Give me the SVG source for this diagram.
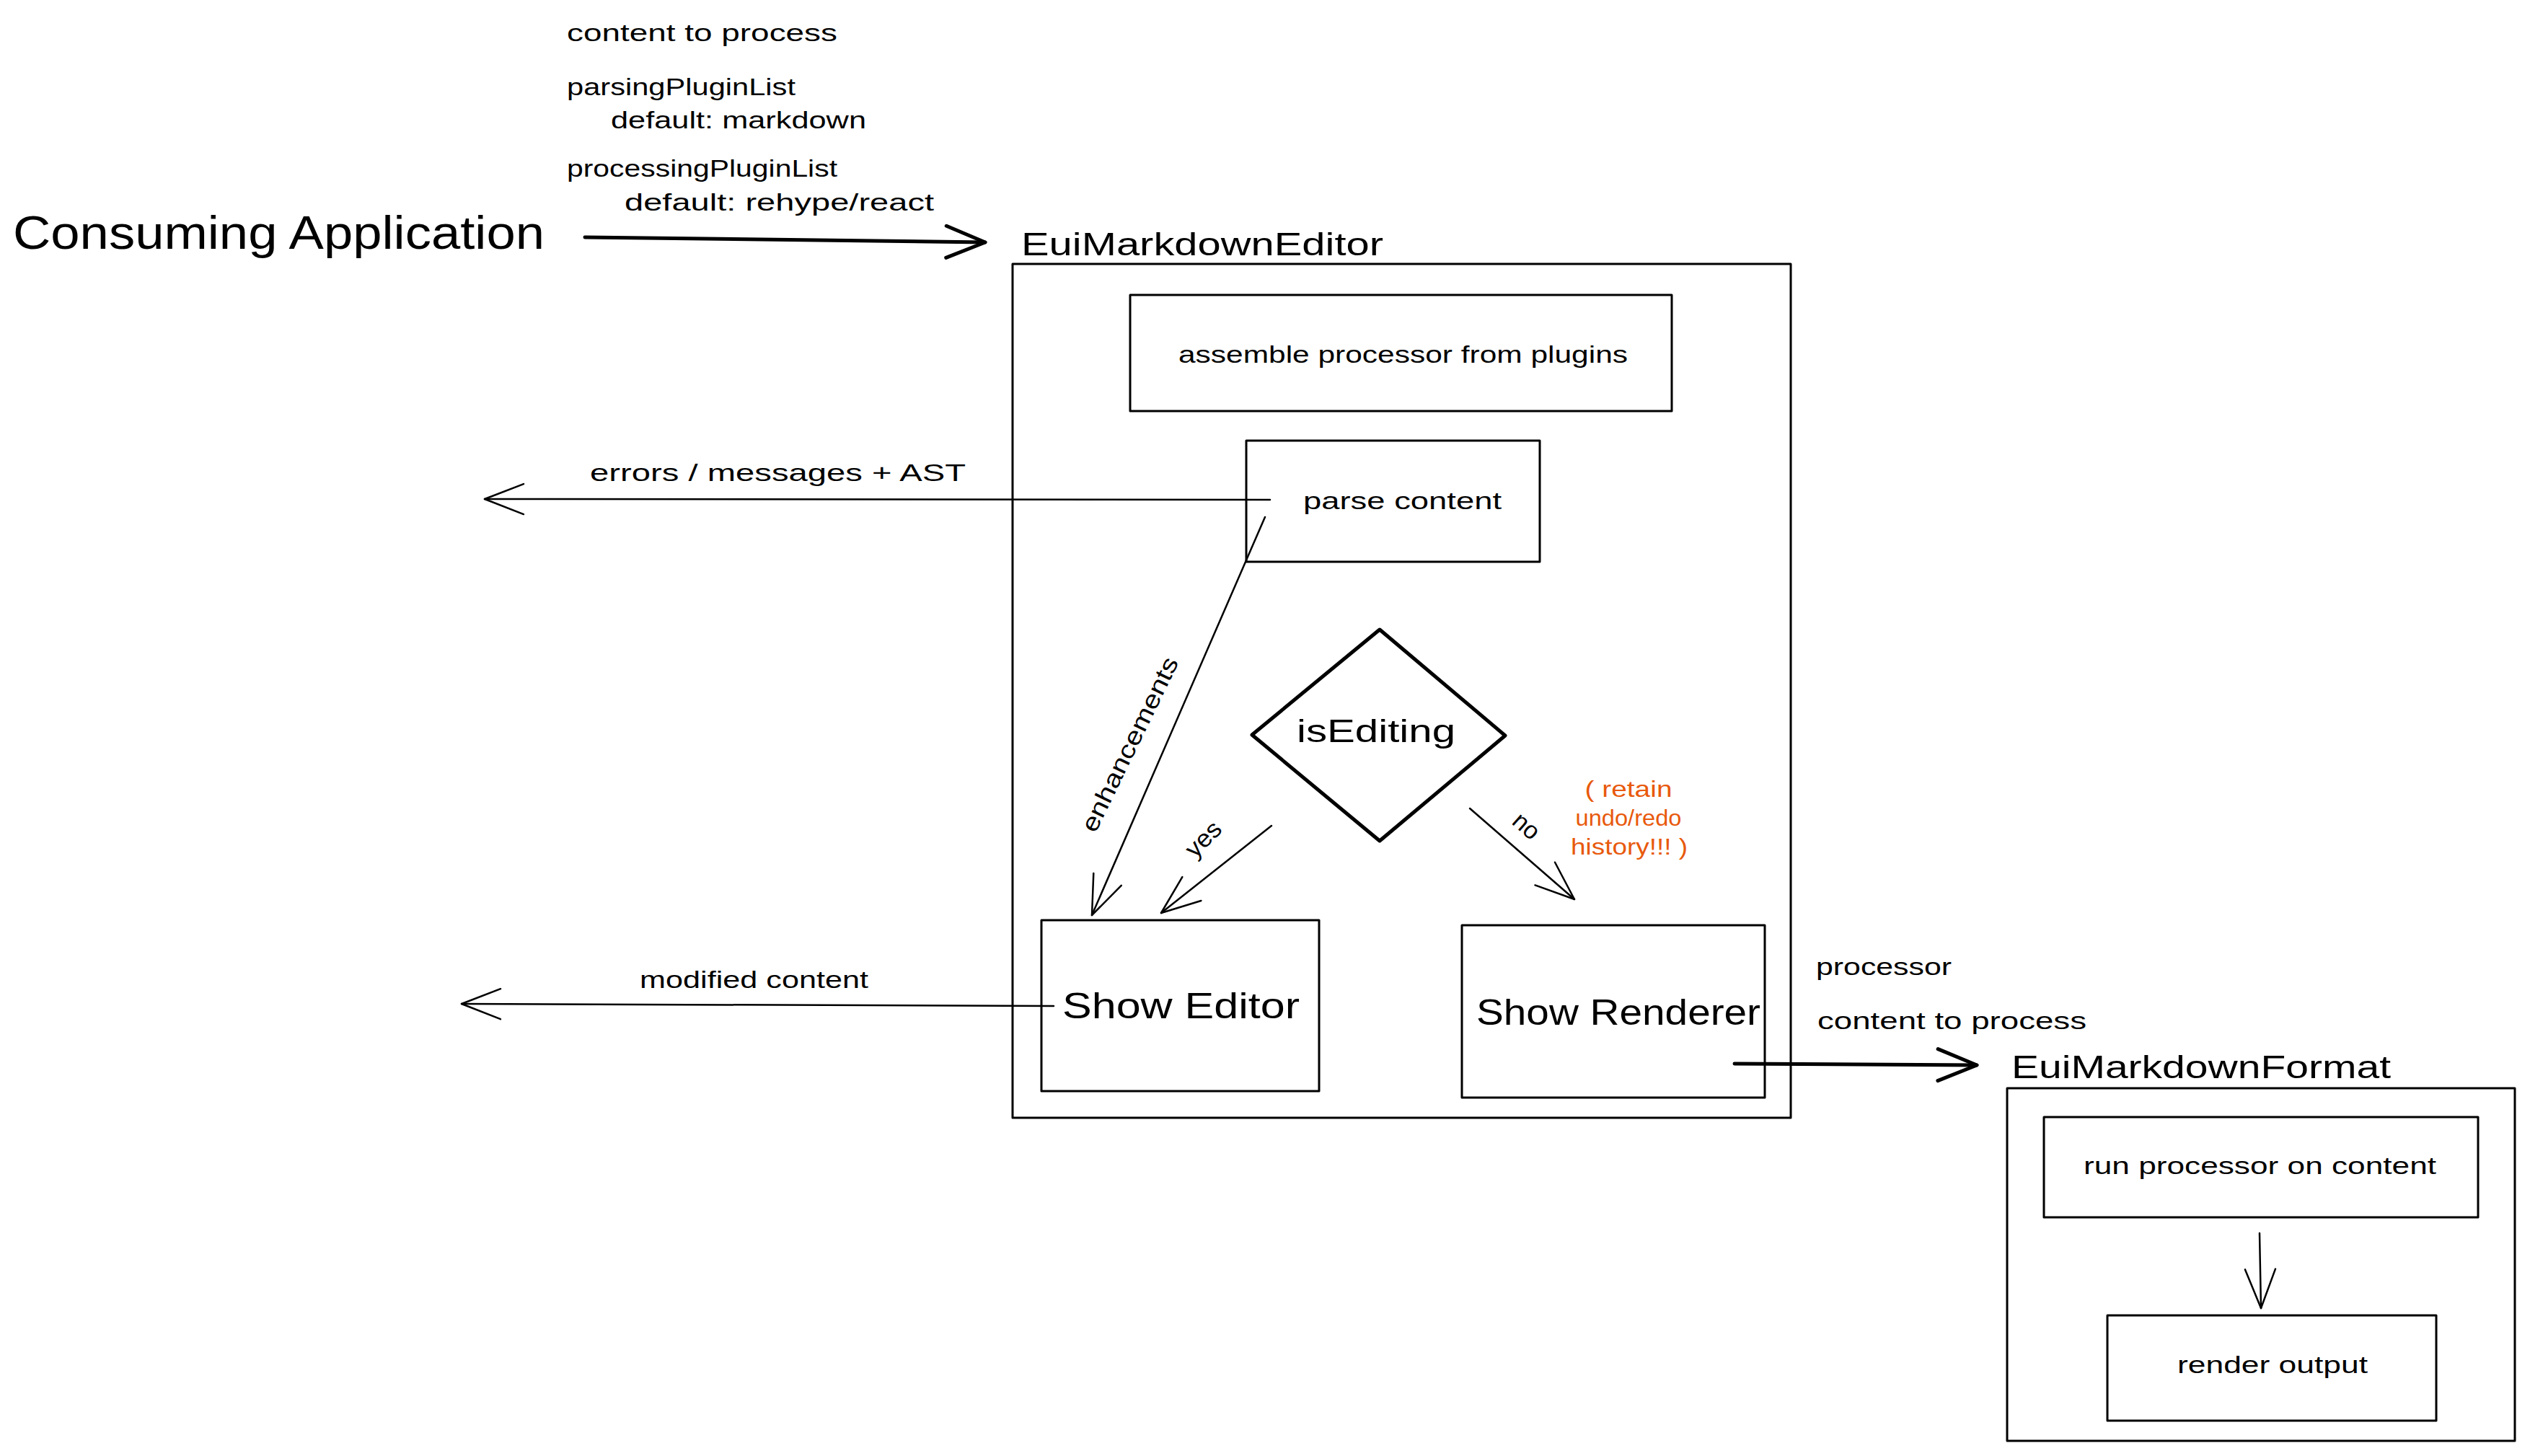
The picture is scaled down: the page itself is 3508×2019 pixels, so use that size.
<svg xmlns="http://www.w3.org/2000/svg" width="3508" height="2019" viewBox="0 0 3508 2019">
<style>
  .bg { fill: #ffffff; }
  .box { fill: none; stroke: #000; stroke-width: 3; stroke-linejoin: round; }
  .dia { fill: none; stroke: #000; stroke-width: 5; stroke-linejoin: round; }
  .thin { fill: none; stroke: #000; stroke-width: 2.5; stroke-linecap: round; }
  .bold { fill: none; stroke: #000; stroke-width: 5; stroke-linecap: round; }
  text { font-family: "Liberation Sans", "DejaVu Sans", sans-serif; fill: #000; }
  .s { font-size: 34px; }
  .big { font-size: 64px; }
  .h { font-size: 44px; }
  .m { font-size: 50px; }
  .note { font-size: 32px; fill: #e8590c; text-anchor: middle; }
</style>
<defs>
  <marker id="chevThin" markerUnits="userSpaceOnUse" viewBox="0 0 120 120" markerWidth="120" markerHeight="120" refX="60" refY="60" orient="auto" overflow="visible">
    <path d="M6,39 L60,60 L6,81" fill="none" stroke="#000" stroke-width="2.5" stroke-linecap="round" stroke-linejoin="round"/>
  </marker>
  <marker id="chevBold" markerUnits="userSpaceOnUse" viewBox="0 0 120 120" markerWidth="120" markerHeight="120" refX="60" refY="60" orient="auto" overflow="visible">
    <path d="M6,38 L60,60 L6,82" fill="none" stroke="#000" stroke-width="5" stroke-linecap="round" stroke-linejoin="round"/>
  </marker>
</defs>
<rect class="bg" x="0" y="0" width="3508" height="2019"/>

<g id="inputs-label">
  <text class="s" x="786" y="57" textLength="375" lengthAdjust="spacingAndGlyphs">content to process</text>
  <text class="s" x="786" y="132" textLength="317" lengthAdjust="spacingAndGlyphs">parsingPluginList</text>
  <text class="s" x="847" y="178" textLength="354" lengthAdjust="spacingAndGlyphs">default: markdown</text>
  <text class="s" x="786" y="245" textLength="375" lengthAdjust="spacingAndGlyphs">processingPluginList</text>
  <text class="s" x="866" y="292" textLength="429" lengthAdjust="spacingAndGlyphs">default: rehype/react</text>
</g>

<g id="consuming-application">
  <text class="big" x="18" y="345" textLength="737" lengthAdjust="spacingAndGlyphs">Consuming Application</text>
</g>

<g id="eui-markdown-editor">
  <text class="h" x="1416" y="354" textLength="502" lengthAdjust="spacingAndGlyphs">EuiMarkdownEditor</text>
  <rect class="box" x="1404" y="366" width="1079" height="1184"/>
</g>

<g id="assemble-processor">
  <rect class="box" x="1567" y="409" width="751" height="161"/>
  <text class="s" x="1634" y="503" textLength="623" lengthAdjust="spacingAndGlyphs">assemble processor from plugins</text>
</g>

<g id="parse-content">
  <rect class="box" x="1728" y="611" width="407" height="168"/>
  <text class="s" x="1807" y="706" textLength="275" lengthAdjust="spacingAndGlyphs">parse content</text>
</g>

<g id="is-editing">
  <polygon class="dia" points="1913,873 2087,1020 1913,1166 1736,1019"/>
  <text class="h" x="1798" y="1029" textLength="220" lengthAdjust="spacingAndGlyphs">isEditing</text>
</g>

<g id="show-editor">
  <rect class="box" x="1444" y="1276" width="385" height="237"/>
  <text class="m" x="1473" y="1412" textLength="329" lengthAdjust="spacingAndGlyphs">Show Editor</text>
</g>

<g id="show-renderer">
  <rect class="box" x="2027" y="1283" width="420" height="239"/>
  <text class="m" x="2047" y="1421" textLength="394" lengthAdjust="spacingAndGlyphs">Show Renderer</text>
</g>

<g id="retain-note">
  <text class="note" x="2258" y="1105" textLength="121" lengthAdjust="spacingAndGlyphs">( retain</text>
  <text class="note" x="2258" y="1145" textLength="147" lengthAdjust="spacingAndGlyphs">undo/redo</text>
  <text class="note" x="2259" y="1185" textLength="162" lengthAdjust="spacingAndGlyphs">history!!! )</text>
</g>

<g id="eui-markdown-format">
  <text class="h" x="2789" y="1495" textLength="526" lengthAdjust="spacingAndGlyphs">EuiMarkdownFormat</text>
  <rect class="box" x="2783" y="1509" width="704" height="489"/>
</g>

<g id="run-processor">
  <rect class="box" x="2834" y="1549" width="602" height="139"/>
  <text class="s" x="2889" y="1628" textLength="489" lengthAdjust="spacingAndGlyphs">run processor on content</text>
</g>

<g id="render-output">
  <rect class="box" x="2922" y="1824" width="456" height="146"/>
  <text class="s" x="3019" y="1904" textLength="264" lengthAdjust="spacingAndGlyphs">render output</text>
</g>

<g id="connectors">
  <path class="bold" d="M811,329 L1366,336" marker-end="url(#chevBold)"/>
  <path class="thin" d="M1761,693 L672,692" marker-end="url(#chevThin)"/>
  <text class="s" x="818" y="667" textLength="521" lengthAdjust="spacingAndGlyphs">errors / messages + AST</text>
  <path class="thin" d="M1754,717 L1514,1269" marker-end="url(#chevThin)"/>
  <text class="s" x="1566" y="1044" text-anchor="middle" textLength="265" lengthAdjust="spacingAndGlyphs" transform="rotate(-64 1566 1032)">enhancements</text>
  <path class="thin" d="M1763,1145 L1610,1266" marker-end="url(#chevThin)"/>
  <text class="s" x="1668" y="1175" text-anchor="middle" textLength="56" lengthAdjust="spacingAndGlyphs" transform="rotate(-45 1668 1163)">yes</text>
  <path class="thin" d="M2038,1121 L2183,1247" marker-end="url(#chevThin)"/>
  <text class="s" x="2117" y="1157" text-anchor="middle" textLength="38" lengthAdjust="spacingAndGlyphs" transform="rotate(41 2117 1145)">no</text>
  <path class="thin" d="M1461,1395 L640,1392" marker-end="url(#chevThin)"/>
  <text class="s" x="887" y="1370" textLength="317" lengthAdjust="spacingAndGlyphs">modified content</text>
  <path class="bold" d="M2405,1475 L2741,1477" marker-end="url(#chevBold)"/>
  <text class="s" x="2518" y="1352" textLength="188" lengthAdjust="spacingAndGlyphs">processor</text>
  <text class="s" x="2520" y="1427" textLength="373" lengthAdjust="spacingAndGlyphs">content to process</text>
  <path class="thin" d="M3133,1710 L3135,1814" marker-end="url(#chevThin)"/>
</g>
</svg>
